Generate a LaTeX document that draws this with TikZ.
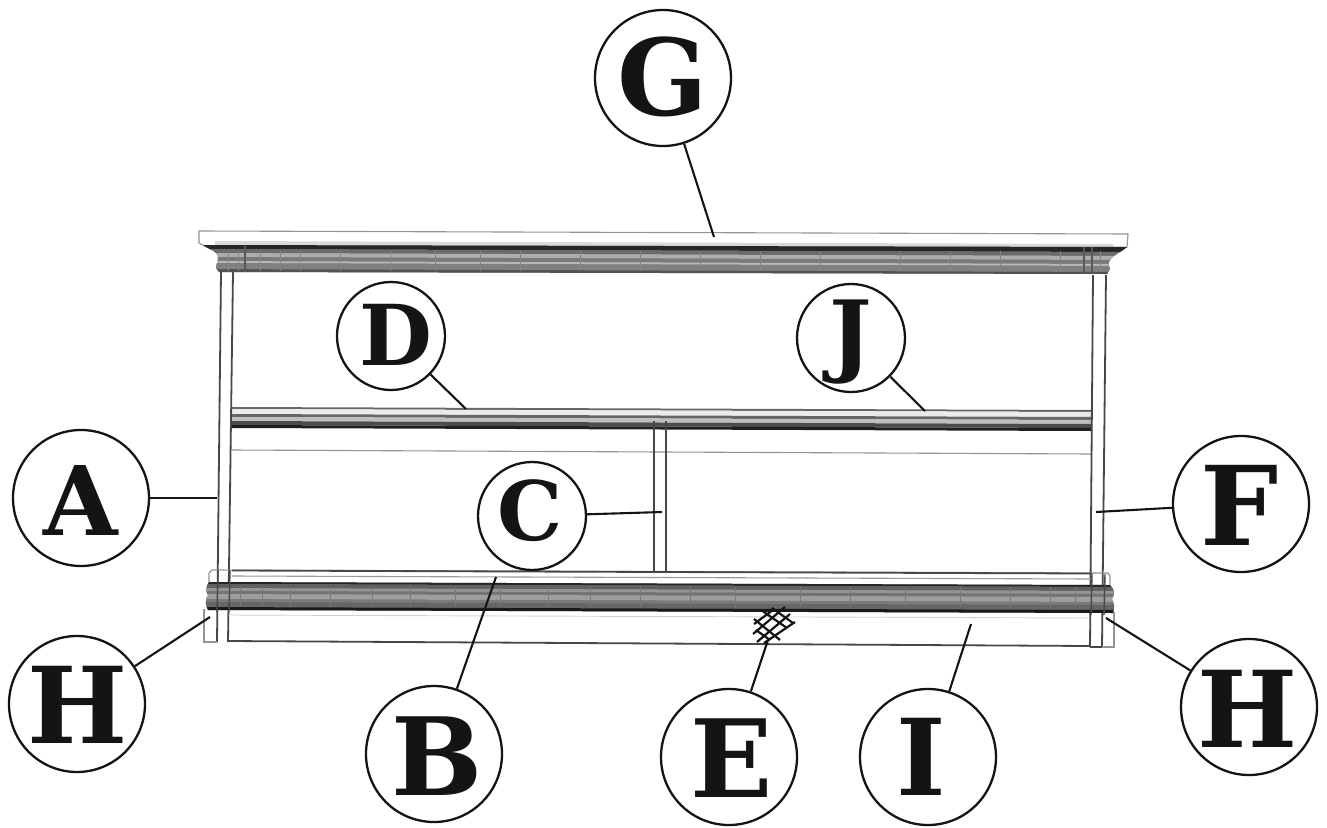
\documentclass[tikz,border=0pt]{standalone}
\usepackage{fontspec}
\setmainfont{DejaVu Serif}
\definecolor{ink}{gray}{0.08}
\newcommand{\lett}[4]{\makebox[0pt][c]{\hspace*{#1pt}\raisebox{-#2pt}[0pt][0pt]{\fontsize{#3}{#3}\selectfont\bfseries #4}}}
\tikzset{x=1pt,y=-1pt,
 callout/.style={circle,draw=ink,line width=2.3pt,fill=white,inner sep=0pt,minimum size=136pt,text=ink},
 calloutsm/.style={callout,minimum size=108pt},
 leader/.style={draw=ink,line width=2.1pt},
 edge/.style={draw=black!72,line width=1.8pt},
 thin edge/.style={draw=black!42,line width=1.1pt},
 hatch/.style={draw=ink,line width=2.2pt}}
\newcommand{\slantband}[7]{\fill[#7] (#1,#3) -- (#2,#5) -- (#2,#6) -- (#1,#4) -- cycle;}
\begin{document}
\begin{tikzpicture}
\useasboundingbox (0,0) rectangle (1327,827);
\fill[white] (0,0) rectangle (1327,827);

% === back panel line ===
\draw[thin edge] (232,450) -- (1092,454);

% === intermediate shelf ===
\slantband{232}{1092}{407}{409}{410}{412}{black!60}
\slantband{232}{1092}{409}{414}{412}{417}{black!8}
\slantband{232}{1092}{414}{417}{417}{420}{black!60}
\slantband{232}{1092}{417}{421}{420}{424}{black!25}
\slantband{232}{1092}{421}{425}{424}{428}{black!70}
\slantband{232}{1092}{425}{428}{428}{431}{black!88}

% === centre divider ===
\draw[edge] (654,421) -- (654,572);
\draw[edge] (666,421) -- (666,573);

% === posts ===
\draw[edge] (221,272) -- (217,642);
\draw[edge] (233,272) -- (228,642);
\draw[edge] (1093,275) -- (1090,647);
\draw[edge] (1106,275) -- (1102,647);

% === plinth ===
\draw[thin edge] (204,609) -- (204,642) -- (217,642);
\draw[edge] (228,641) -- (1090,646);
\draw[edge] (1090,647) -- (1102,647);
\draw[thin edge] (1102,647) -- (1114,647) -- (1114,612);
\draw[black!18,line width=.9pt] (228,615) -- (1090,618);

% === base moulding ===
\draw[thin edge] (209,582) -- (209,573) -- (212,570) -- (1108,573) -- (1110,576) -- (1110,585);
\draw[edge] (232,570.5) -- (1092,573.5);
\draw[black!40,line width=1.1pt] (232,576) -- (1092,579);
\begin{scope}
\clip (209,582) .. controls (205,588) and (206,592) .. (208,595) .. controls (205,600) and (205,604) .. (208,610)
  -- (1113,613) .. controls (1115,607) and (1114,603) .. (1112,599) .. controls (1115,594) and (1115,590) .. (1110,585) -- cycle;
\fill[black!50] (200,575) rectangle (1120,620);
\slantband{200}{1120}{581}{584}{584}{587}{black!85}
\slantband{200}{1120}{584}{588}{587}{591}{black!62}
\slantband{200}{1120}{588}{591}{591}{594}{black!42}
\slantband{200}{1120}{591}{594}{594}{597}{black!55}
\slantband{200}{1120}{594}{599}{597}{602}{black!38}
\slantband{200}{1120}{599}{602}{602}{605}{black!52}
\slantband{200}{1120}{602}{607}{605}{610}{black!60}
\slantband{200}{1120}{607}{611}{610}{614}{black!90}
\foreach \vx in {240,262,290,330,372,410,455,500,548,590,640,690,735,800,850,905,960,1010,1050,1075}
  {\draw[black!53,line width=.4pt] (\vx,587) -- (\vx,607);}
\end{scope}
\draw[black!72,line width=1.4pt] (218,570) -- (217,612) (230,570) -- (229,612)
  (1092,574) -- (1091,615) (1105,574) -- (1104,615);

% === top cap and cornice ===
\draw[thin edge,fill=white] (199,231) -- (1128,234) -- (1127,247) -- (1112,252) -- (212,250) -- (199,243) -- cycle;
\slantband{215}{1113}{241}{245}{244}{248}{black!15}
\begin{scope}
\clip (203,245) .. controls (210,250) and (217,250) .. (218,258) .. controls (218,262) and (216,264) .. (216,268) -- (219,272)
  -- (1107,274) -- (1110,269) .. controls (1110,266) and (1107,264) .. (1110,260) .. controls (1114,254) and (1122,252) .. (1127,247) -- cycle;
\fill[black!45] (195,240) rectangle (1130,280);
\slantband{195}{1130}{244}{249}{247}{252}{black!85}
\slantband{195}{1130}{249}{253}{252}{256}{black!58}
\slantband{195}{1130}{253}{257}{256}{260}{black!32}
\slantband{195}{1130}{257}{261}{260}{264}{black!52}
\slantband{195}{1130}{261}{263}{264}{266}{black!28}
\slantband{195}{1130}{263}{269}{266}{272}{black!50}
\slantband{195}{1130}{269}{273}{272}{276}{black!68}
\foreach \vx in {245,1084,1092}{\draw[black!65,line width=1.2pt] (\vx,246) -- (\vx,274);}
\foreach \vx in {228,238,260,280,300,340,390,435,480,520,580,640,700,760,820,900,950,1000,1060,1100}
  {\draw[black!48,line width=.4pt] (\vx,251) -- (\vx,271);}
\end{scope}

% === material hatch ===
\draw[hatch] (753,634) -- (785,607) (757,642) -- (790,614) (764,643) -- (795,622) (754,624) -- (773,610);
\draw[hatch] (761,610) -- (787,628) (754,619) -- (780,640) (756,630) -- (770,640) (772,608) -- (793,623);

% === free ends of the leaders ===
\coordinate (pG) at (714,237);
\coordinate (pD) at (466,409);
\coordinate (pJ) at (925,411);
\coordinate (pA) at (217,498);
\coordinate (pC) at (662,512);
\coordinate (pF) at (1096,512);
\coordinate (pHl) at (210,617);
\coordinate (pB) at (496,577);
\coordinate (pE) at (768,640);
\coordinate (pI) at (971,624);
\coordinate (pHr) at (1106,618);

% === callouts ===
\node[callout] (G) at (663,78) {\lett{0}{37}{106}{G}};
\node[calloutsm] (D) at (391,336) {\lett{10}{29}{84}{D}};
\node[calloutsm] (J) at (851,338) {\lett{0}{27}{90}{J}};
\node[callout] (A) at (81,498) {\lett{0}{37}{96}{A}};
\node[calloutsm] (C) at (532,516) {\lett{-4}{24}{82}{C}};
\node[callout] (F) at (1241,504) {\lett{-2}{41}{110}{F}};
\node[callout] (Hl) at (77,704) {\lett{2}{39}{106}{H}};
\node[callout] (B) at (434,754) {\lett{6}{41}{108}{B}};
\node[callout] (E) at (729,757) {\lett{6}{40}{108}{E}};
\node[callout] (I) at (928,757) {\lett{-14}{38}{106}{I}};
\node[callout] (Hr) at (1249,707) {\lett{-2}{40}{106}{H}};

\draw[leader] (G) -- (pG);
\draw[leader] (D) -- (pD);
\draw[leader] (J) -- (pJ);
\draw[leader] (A) -- (pA);
\draw[leader] (C) -- (pC);
\draw[leader] (F) -- (pF);
\draw[leader] (Hl) -- (pHl);
\draw[leader] (B) -- (pB);
\draw[leader] (E) -- (pE);
\draw[leader] (I) -- (pI);
\draw[leader] (Hr) -- (pHr);
\end{tikzpicture}
\end{document}
